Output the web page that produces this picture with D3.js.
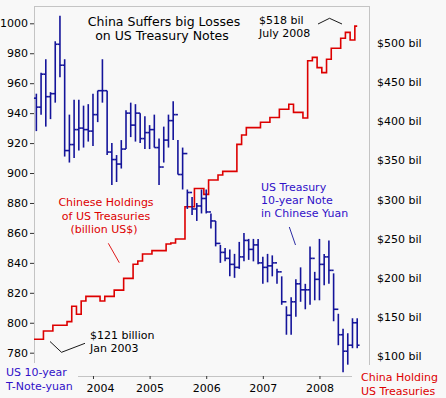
<!DOCTYPE html>
<html>
<head>
<meta charset="utf-8">
<script src="https://cdn.jsdelivr.net/npm/d3@7/dist/d3.min.js"></script>
<style>
  html, body { margin: 0; padding: 0; background: #f8f8f8; }
  svg { display: block; }
  text { font-family: Verdana, "DejaVu Sans", sans-serif; }
</style>
</head>
<body>
<svg id="chart" width="446" height="398"></svg>
<script>
// ---- Data (monthly, Jan 2003 .. Sep 2008) ----
const startYear = 2003;
// US 10-year T-Note price in Chinese yuan: monthly high / low / close
const noteHigh = [953,967,976,954,988,1005,976,939,949,949,945,946,
                  953,955,976,955,920,912,922,942,947,946,940,938,
                  932,939,923,931,939,948,922,917,889,884,880,889,
                  889,873,868,852,850,849,846,854,860,856,856,856,
                  844,846,845,836,831,811,817,829,837,826,851,834,
                  856,846,855,833,806,796,793,803,803];
const noteLow  = [928,939,931,936,947,964,911,907,910,915,917,921,
                  918,934,947,912,892,894,903,916,924,921,920,916,
                  916,917,892,907,917,922,899,889,876,872,868,873,
                  873,863,851,840,841,831,830,836,841,842,841,839,
                  826,827,831,826,812,792,792,804,814,809,812,815,
                  815,825,826,801,785,767,772,783,783];
const noteClose= [944,966,951,953,986,972,915,919,929,930,929,928,
                  939,955,955,914,909,906,916,940,932,940,923,927,
                  929,917,904,922,935,939,899,913,887,876,878,883,
                  874,868,853,847,843,839,837,844,855,849,852,840,
                  837,838,840,834,814,805,814,826,822,822,843,829,
                  839,844,835,809,792,781,785,800,785];
const noteFirstOpen = 950;
// Chinese holdings of US Treasuries, billion US$
const holdings = [121,121,131.6,131.6,139,139,139,143.6,163.3,153,170,176,
                  176,176,170,176,176,184,184,199,199,217,221.3,230.2,
                  230.2,234.5,234.5,234.5,243,244.3,249.4,249.4,290.8,290.8,314,314,
                  306.6,325,325,331.4,336,336,336,370.6,382.6,392,392,392,
                  399,399,405,405,415.5,415.5,422,411.6,411.6,404.4,477.7,482,
                  468.8,462.4,479.5,493.6,493.6,506.4,514,504.2,522];
const leftTicks  = [780,800,820,840,860,880,900,920,940,960,980,1000];
const rightTicks = [100,150,200,250,300,350,400,450,500];
const yearLabels = ["2004","2005","2006","2007","2008"];

// ---- Layout ----
const svg = d3.select("#chart");
const W = 446, H = 398;
svg.append("rect").attr("width", W).attr("height", H).attr("fill", "#f8f8f8");

const x  = d3.scaleLinear().domain([-0.5, 70.5]).range([34, 369]);
const yL = d3.scaleLinear().domain([780, 1000]).range([352.7, 23.3]);
const yR = d3.scaleLinear().domain([100, 500]).range([355.7, 43.3]);

const frame = "#c4c4c4";
// frame lines (with gaps at the bottom corners)
svg.append("line").attr("x1", 34.5).attr("x2", 34.5).attr("y1", 6).attr("y2", 363).attr("stroke", frame);
svg.append("line").attr("x1", 34).attr("x2", 370).attr("y1", 6.5).attr("y2", 6.5).attr("stroke", frame);
svg.append("line").attr("x1", 369.5).attr("x2", 369.5).attr("y1", 6).attr("y2", 365).attr("stroke", frame);
svg.append("line").attr("x1", 78).attr("x2", 352).attr("y1", 376.5).attr("y2", 376.5).attr("stroke", frame);

// Left axis
const axL = svg.append("g").attr("transform", "translate(34,0)")
  .call(d3.axisLeft(yL).tickValues(leftTicks).tickSize(4).tickPadding(2).tickFormat(d3.format("d")));
axL.select(".domain").remove();
axL.selectAll(".tick line").attr("stroke", "#333");
axL.selectAll(".tick text").attr("fill", "#000").style("font-size", "11px")
   .style("font-family", "Verdana, 'DejaVu Sans', sans-serif");

// Right axis (labels only)
const axR = svg.append("g").attr("transform", "translate(369,0)")
  .call(d3.axisRight(yR).tickValues(rightTicks).tickSize(0).tickPadding(8).tickFormat(d => "$" + d + " bil"));
axR.select(".domain").remove();
axR.selectAll(".tick text").attr("fill", "#000").style("font-size", "11px")
   .style("font-family", "Verdana, 'DejaVu Sans', sans-serif");

// Bottom axis: year ticks at January of each year
const yearIdx = yearLabels.map((y, k) => (+y - startYear) * 12);
const axB = svg.append("g").attr("transform", "translate(0,376)")
  .call(d3.axisBottom(x).tickValues(yearIdx).tickSize(3).tickPadding(5)
        .tickFormat((d, k) => yearLabels[k]));
axB.select(".domain").remove();
axB.selectAll(".tick line").attr("stroke", "#333");
axB.selectAll(".tick text").attr("fill", "#000").style("font-size", "11px")
   .style("font-family", "Verdana, 'DejaVu Sans', sans-serif")
   .attr("dx", (d, k) => k === 0 ? 7 : 0);

// Red step line: holdings
const redPts = holdings.map((v, i) => [i - 0.5, v]);
redPts.push([holdings.length - 1, holdings[holdings.length - 1]]);
svg.append("path")
  .datum(redPts)
  .attr("fill", "none")
  .attr("stroke", "#dd0000")
  .attr("stroke-width", 1.6)
  .attr("d", d3.line().x(d => x(d[0])).y(d => yR(d[1])).curve(d3.curveStepAfter));

// Blue OHLC bars
const barColor = "#14149a";
const bars = svg.append("g").attr("stroke", barColor).attr("stroke-width", 1.6);
noteHigh.forEach((h, i) => {
  const o = i === 0 ? noteFirstOpen : noteClose[i - 1];
  const cx = x(i);
  bars.append("line").attr("x1", cx).attr("x2", cx).attr("y1", yL(h)).attr("y2", yL(noteLow[i]));
  bars.append("line").attr("x1", cx - 2.4).attr("x2", cx).attr("y1", yL(o)).attr("y2", yL(o));
  bars.append("line").attr("x1", cx).attr("x2", cx + 2.4).attr("y1", yL(noteClose[i])).attr("y2", yL(noteClose[i]));
});

// ---- Texts ----
function txt(s, px, py, opts = {}) {
  return svg.append("text").attr("x", px).attr("y", py).text(s)
    .attr("fill", opts.fill || "#000")
    .attr("text-anchor", opts.anchor || "start")
    .style("font-size", (opts.size || 11) + "px");
}
txt("China Suffers big Losses", 164, 26, {anchor: "middle", size: 12.5});
txt("on US Treasury Notes", 162, 39.5, {anchor: "middle", size: 12.5});

const red = "#dd0000", blue = "#3010c8";
txt("Chinese Holdings", 106, 206, {anchor: "middle", fill: red});
txt("of US Treasuries", 106, 219.5, {anchor: "middle", fill: red});
txt("(billion US$)", 104, 232.5, {anchor: "middle", fill: red});

txt("US Treasury", 261, 190.5, {fill: blue});
txt("10-year Note", 261, 203.5, {fill: blue});
txt("in Chinese Yuan", 261, 216.5, {fill: blue});

txt("$121 billion", 90, 338.5);
txt("Jan 2003", 90, 352);
txt("$518 bil", 259, 24);
txt("July 2008", 259, 37);

txt("US 10-year", 6, 376, {fill: blue});
txt("T-Note-yuan", 6, 389.5, {fill: blue});
txt("China Holding", 361, 381, {fill: red});
txt("US Treasuries", 361, 394.5, {fill: red});

// pointer lines
const ptr = d3.line();
svg.append("path").attr("d", ptr([[50, 341.5], [61.5, 352.3], [85, 343.3]]))
  .attr("fill", "none").attr("stroke", "#000").attr("stroke-width", 0.9);
svg.append("path").attr("d", ptr([[318, 24], [329.5, 18.3], [342, 24]]))
  .attr("fill", "none").attr("stroke", "#000").attr("stroke-width", 0.9);
svg.append("path").attr("d", ptr([[108.3, 243.3], [119.3, 262.7]]))
  .attr("fill", "none").attr("stroke", red).attr("stroke-width", 0.9);
svg.append("path").attr("d", ptr([[289.3, 227], [295.5, 245]]))
  .attr("fill", "none").attr("stroke", "#14149a").attr("stroke-width", 0.9);
</script>
</body>
</html>
